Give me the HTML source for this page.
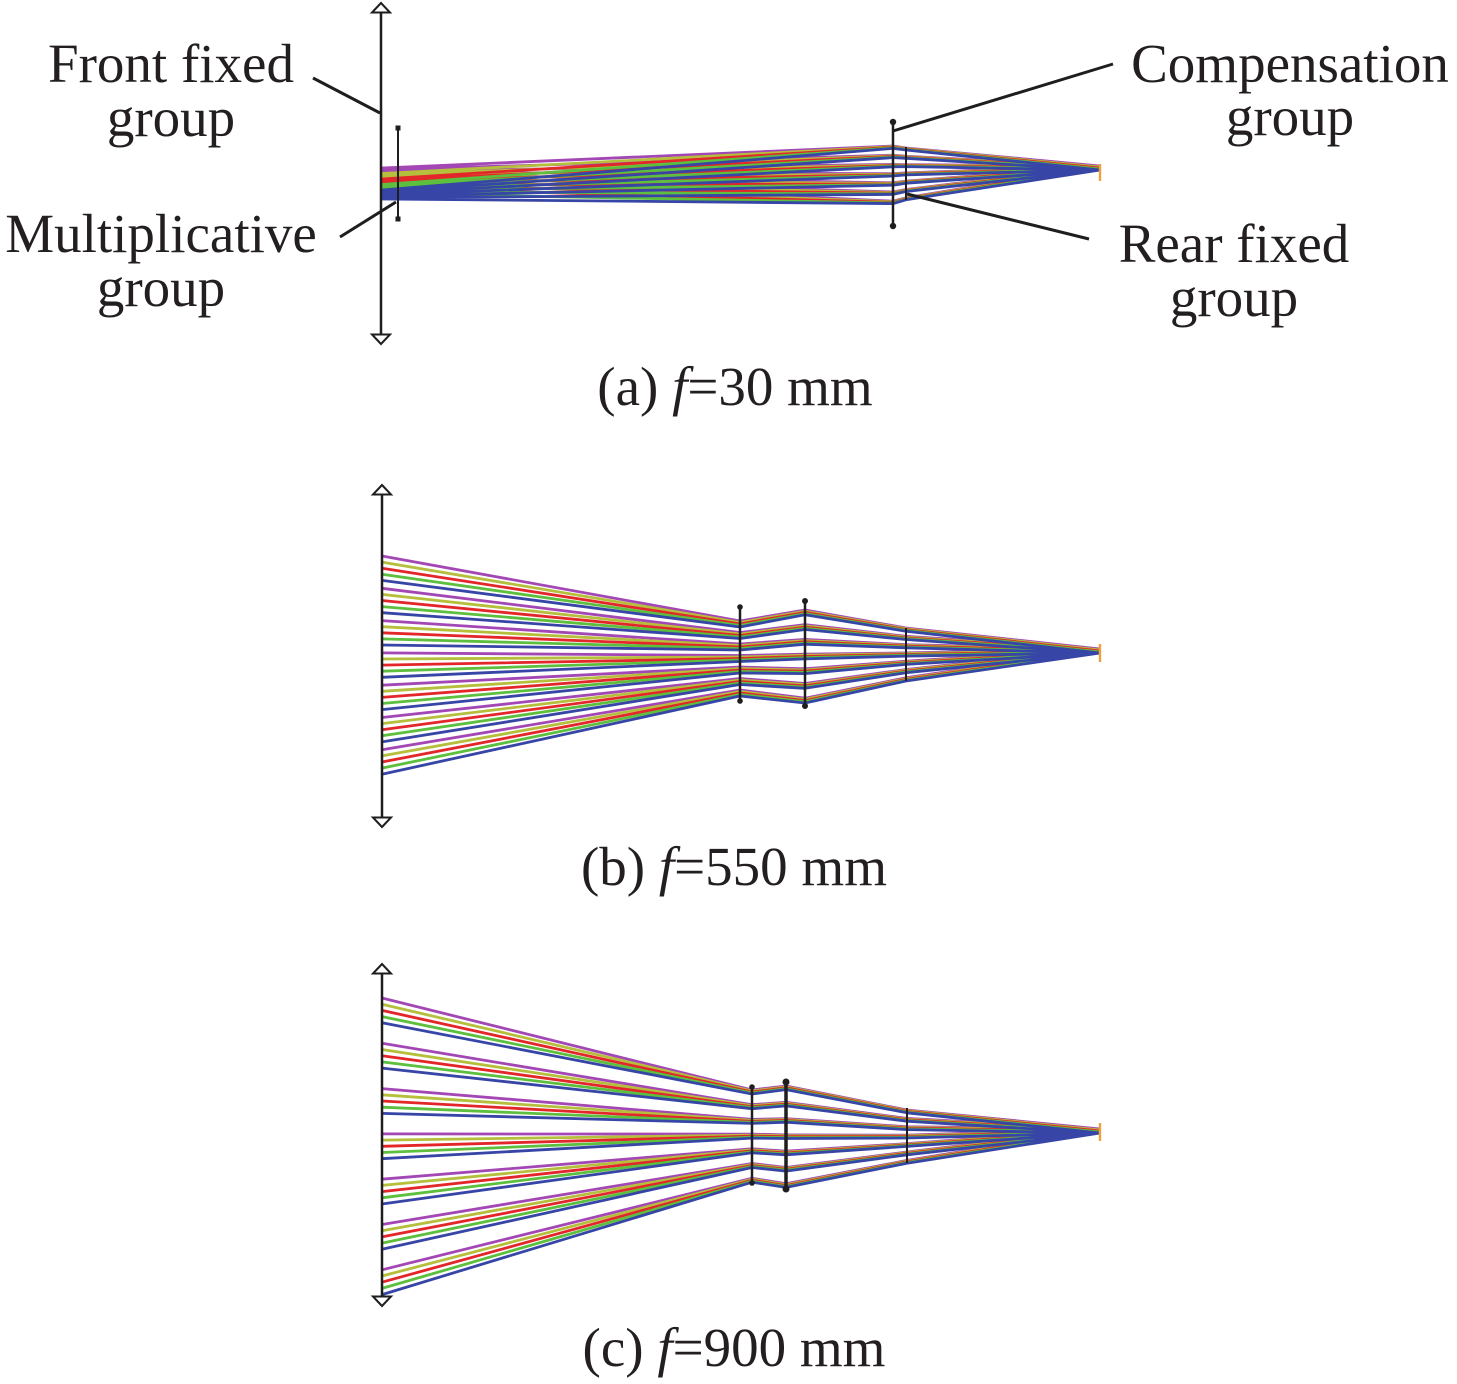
<!DOCTYPE html>
<html>
<head>
<meta charset="utf-8">
<style>
  html, body { margin: 0; padding: 0; background: #ffffff; }
  svg { display: block; }
  .t { font-family: "Liberation Serif", "Times New Roman", serif; font-size: 55px; fill: #231f20; }
  .ray { fill: none; stroke-width: 2.8; stroke-linejoin: round; }
  .m { stroke: #a347b5; }
  .y { stroke: #b5bf3c; }
  .r { stroke: #e3262a; }
  .g { stroke: #5cbf3e; }
  .b { stroke: #3645a6; }
  .lens { stroke: #1e1e1e; fill: none; }
  .arr { fill: #ffffff; stroke: #1e1e1e; stroke-width: 2; stroke-linejoin: miter; }
  .lead { stroke: #1e1e1e; stroke-width: 3; fill: none; }
  .dot { fill: #1e1e1e; }
  .foc { stroke: #f0a040; stroke-width: 2.4; fill: none; }
</style>
</head>
<body>
<svg width="1457" height="1384" viewBox="0 0 1457 1384" xmlns="http://www.w3.org/2000/svg">
<rect x="0" y="0" width="1457" height="1384" fill="#ffffff"/>

<!-- ===================== (a) ===================== -->
<g>
<path class="ray m" stroke-width="2.4" d="M382 168 L893 146 L906 148 L1100 166 M382 169.5 L893 155.2 L906 156.3 L1100 166 M382 171 L893 164.4 L906 164.6 L1100 166 M382 172.5 L893 173.6 L906 172.9 L1100 166 M382 174 L893 182.8 L906 181.2 L1100 166 M382 175.5 L893 192 L906 189.5 L1100 166 M382 177 L893 201.2 L906 197.8 L1100 166"/>
<path class="ray y" stroke-width="2.4" d="M382 173.5 L893 146.6 L906 148.5 L1100 167 M382 175 L893 155.8 L906 156.8 L1100 167 M382 176.5 L893 165 L906 165.1 L1100 167 M382 178 L893 174.2 L906 173.4 L1100 167 M382 179.5 L893 183.4 L906 181.7 L1100 167 M382 181 L893 192.6 L906 190 L1100 167 M382 182.5 L893 201.8 L906 198.3 L1100 167"/>
<path class="ray r" stroke-width="2.4" d="M382 179 L893 147.2 L906 149 L1100 168 M382 180.5 L893 156.4 L906 157.3 L1100 168 M382 182 L893 165.6 L906 165.6 L1100 168 M382 183.5 L893 174.8 L906 173.9 L1100 168 M382 185 L893 184 L906 182.2 L1100 168 M382 186.5 L893 193.2 L906 190.5 L1100 168 M382 188 L893 202.4 L906 198.8 L1100 168"/>
<path class="ray g" stroke-width="2.4" d="M382 184.5 L893 147.8 L906 149.5 L1100 169 M382 186 L893 157 L906 157.8 L1100 169 M382 187.5 L893 166.2 L906 166.1 L1100 169 M382 189 L893 175.4 L906 174.4 L1100 169 M382 190.5 L893 184.6 L906 182.7 L1100 169 M382 192 L893 193.8 L906 191 L1100 169 M382 193.5 L893 203 L906 199.3 L1100 169"/>
<path class="ray b" stroke-width="2.4" d="M382 190 L893 148.4 L906 150 L1100 170 M382 191.5 L893 157.6 L906 158.3 L1100 170 M382 193 L893 166.8 L906 166.6 L1100 170 M382 194.5 L893 176 L906 174.9 L1100 170 M382 196 L893 185.2 L906 183.2 L1100 170 M382 197.5 L893 194.4 L906 191.5 L1100 170 M382 199 L893 203.6 L906 199.8 L1100 170"/>

<line class="foc" x1="1100" y1="164" x2="1100" y2="181"/>

<!-- front fixed lens -->
<line class="lens" x1="381" y1="12" x2="381" y2="335" stroke-width="2.5"/>
<polygon class="arr" points="381,3 372,12.5 390,12.5"/>
<polygon class="arr" points="381,344 372,334.5 390,334.5"/>
<!-- multiplicative -->
<line class="lens" x1="398" y1="128" x2="398" y2="219" stroke-width="2"/>
<rect class="dot" x="395.5" y="125.5" width="5" height="5"/>
<rect class="dot" x="395.5" y="216.5" width="5" height="5"/>
<!-- compensation -->
<line class="lens" x1="893" y1="122" x2="893" y2="226" stroke-width="2.5"/>
<circle class="dot" cx="893" cy="122" r="3.2"/>
<circle class="dot" cx="893" cy="226" r="3.2"/>
<!-- rear fixed -->
<line class="lens" x1="906" y1="147" x2="906" y2="200" stroke-width="2"/>

<!-- leader lines -->
<line class="lead" x1="313" y1="78" x2="380" y2="113"/>
<line class="lead" x1="340" y1="237" x2="396" y2="202"/>
<line class="lead" x1="893" y1="131" x2="1113" y2="64"/>
<line class="lead" x1="907" y1="194" x2="1089" y2="239"/>

<!-- labels -->
<text class="t" x="171" y="82" text-anchor="middle">Front fixed</text>
<text class="t" x="171" y="136" text-anchor="middle">group</text>
<text class="t" x="161" y="252" text-anchor="middle">Multiplicative</text>
<text class="t" x="161" y="306" text-anchor="middle">group</text>
<text class="t" x="1290" y="82" text-anchor="middle">Compensation</text>
<text class="t" x="1290" y="135" text-anchor="middle">group</text>
<text class="t" x="1234" y="262" text-anchor="middle">Rear fixed</text>
<text class="t" x="1234" y="316" text-anchor="middle">group</text>

<text class="t" x="735" y="405" text-anchor="middle">(a) <tspan font-style="italic">f</tspan>=30 mm</text>
</g>

<!-- ===================== (b) ===================== -->
<g>
<path class="ray m" d="M382 556 L740 621 L805 610 L906 628 L1100 649 M382 588.3 L740 632.5 L805 624.7 L906 636.3 L1100 649 M382 620.6 L740 644 L805 639.4 L906 644.6 L1100 649 M382 652.9 L740 655.5 L805 654.1 L906 652.9 L1100 649 M382 685.2 L740 667 L805 668.8 L906 661.2 L1100 649 M382 717.5 L740 678.5 L805 683.5 L906 669.5 L1100 649 M382 749.8 L740 690 L805 698.2 L906 677.8 L1100 649"/>
<path class="ray y" d="M382 562.1 L740 622.5 L805 611.2 L906 628.8 L1100 650 M382 594.4 L740 634 L805 625.9 L906 637.1 L1100 650 M382 626.7 L740 645.5 L805 640.6 L906 645.4 L1100 650 M382 659 L740 657 L805 655.3 L906 653.7 L1100 650 M382 691.3 L740 668.5 L805 670 L906 662 L1100 650 M382 723.6 L740 680 L805 684.7 L906 670.3 L1100 650 M382 755.9 L740 691.5 L805 699.4 L906 678.6 L1100 650"/>
<path class="ray r" d="M382 568.2 L740 624 L805 612.4 L906 629.6 L1100 651 M382 600.5 L740 635.5 L805 627.1 L906 637.9 L1100 651 M382 632.8 L740 647 L805 641.8 L906 646.2 L1100 651 M382 665.1 L740 658.5 L805 656.5 L906 654.5 L1100 651 M382 697.4 L740 670 L805 671.2 L906 662.8 L1100 651 M382 729.7 L740 681.5 L805 685.9 L906 671.1 L1100 651 M382 762 L740 693 L805 700.6 L906 679.4 L1100 651"/>
<path class="ray g" d="M382 574.3 L740 625.5 L805 613.6 L906 630.4 L1100 652 M382 606.6 L740 637 L805 628.3 L906 638.7 L1100 652 M382 638.9 L740 648.5 L805 643 L906 647 L1100 652 M382 671.2 L740 660 L805 657.7 L906 655.3 L1100 652 M382 703.5 L740 671.5 L805 672.4 L906 663.6 L1100 652 M382 735.8 L740 683 L805 687.1 L906 671.9 L1100 652 M382 768.1 L740 694.5 L805 701.8 L906 680.2 L1100 652"/>
<path class="ray b" d="M382 580.4 L740 627 L805 614.8 L906 631.2 L1100 653 M382 612.7 L740 638.5 L805 629.5 L906 639.5 L1100 653 M382 645 L740 650 L805 644.2 L906 647.8 L1100 653 M382 677.3 L740 661.5 L805 658.9 L906 656.1 L1100 653 M382 709.6 L740 673 L805 673.6 L906 664.4 L1100 653 M382 741.9 L740 684.5 L805 688.3 L906 672.7 L1100 653 M382 774.2 L740 696 L805 703 L906 681 L1100 653"/>

<line class="foc" x1="1100" y1="644" x2="1100" y2="662"/>

<line class="lens" x1="382" y1="494" x2="382" y2="818" stroke-width="2.5"/>
<polygon class="arr" points="382,485 373,494.5 391,494.5"/>
<polygon class="arr" points="382,827 373,817.5 391,817.5"/>

<line class="lens" x1="740" y1="607" x2="740" y2="701" stroke-width="2.5"/>
<circle class="dot" cx="740" cy="607" r="2.8"/>
<circle class="dot" cx="740" cy="701" r="2.8"/>
<line class="lens" x1="805" y1="601" x2="805" y2="706" stroke-width="2.5"/>
<circle class="dot" cx="805" cy="601" r="3"/>
<circle class="dot" cx="805" cy="706" r="3"/>
<line class="lens" x1="906" y1="628" x2="906" y2="681" stroke-width="2"/>

<text class="t" x="734" y="885" text-anchor="middle">(b) <tspan font-style="italic">f</tspan>=550 mm</text>
</g>

<!-- ===================== (c) ===================== -->
<g>
<path class="ray m" d="M382 998 L752 1090 L786 1086 L907 1110 L1100 1129 M382 1043.3 L752 1104.7 L786 1102.3 L907 1118.4 L1100 1129 M382 1088.6 L752 1119.4 L786 1118.6 L907 1126.8 L1100 1129 M382 1133.9 L752 1134.1 L786 1134.9 L907 1135.2 L1100 1129 M382 1179.2 L752 1148.8 L786 1151.2 L907 1143.6 L1100 1129 M382 1224.5 L752 1163.5 L786 1167.5 L907 1152 L1100 1129 M382 1269.8 L752 1178.2 L786 1183.8 L907 1160.4 L1100 1129"/>
<path class="ray y" d="M382 1004.2 L752 1091 L786 1086.9 L907 1110.7 L1100 1130 M382 1049.5 L752 1105.7 L786 1103.2 L907 1119.1 L1100 1130 M382 1094.8 L752 1120.4 L786 1119.5 L907 1127.5 L1100 1130 M382 1140.1 L752 1135.1 L786 1135.8 L907 1135.9 L1100 1130 M382 1185.4 L752 1149.8 L786 1152.1 L907 1144.3 L1100 1130 M382 1230.7 L752 1164.5 L786 1168.4 L907 1152.7 L1100 1130 M382 1276 L752 1179.2 L786 1184.7 L907 1161.1 L1100 1130"/>
<path class="ray r" d="M382 1010.4 L752 1092 L786 1087.8 L907 1111.4 L1100 1131 M382 1055.7 L752 1106.7 L786 1104.1 L907 1119.8 L1100 1131 M382 1101 L752 1121.4 L786 1120.4 L907 1128.2 L1100 1131 M382 1146.3 L752 1136.1 L786 1136.7 L907 1136.6 L1100 1131 M382 1191.6 L752 1150.8 L786 1153 L907 1145 L1100 1131 M382 1236.9 L752 1165.5 L786 1169.3 L907 1153.4 L1100 1131 M382 1282.2 L752 1180.2 L786 1185.6 L907 1161.8 L1100 1131"/>
<path class="ray g" d="M382 1016.6 L752 1093 L786 1088.7 L907 1112.1 L1100 1132 M382 1061.9 L752 1107.7 L786 1105 L907 1120.5 L1100 1132 M382 1107.2 L752 1122.4 L786 1121.3 L907 1128.9 L1100 1132 M382 1152.5 L752 1137.1 L786 1137.6 L907 1137.3 L1100 1132 M382 1197.8 L752 1151.8 L786 1153.9 L907 1145.7 L1100 1132 M382 1243.1 L752 1166.5 L786 1170.2 L907 1154.1 L1100 1132 M382 1288.4 L752 1181.2 L786 1186.5 L907 1162.5 L1100 1132"/>
<path class="ray b" d="M382 1022.8 L752 1094 L786 1089.6 L907 1112.8 L1100 1133 M382 1068.1 L752 1108.7 L786 1105.9 L907 1121.2 L1100 1133 M382 1113.4 L752 1123.4 L786 1122.2 L907 1129.6 L1100 1133 M382 1158.7 L752 1138.1 L786 1138.5 L907 1138 L1100 1133 M382 1204 L752 1152.8 L786 1154.8 L907 1146.4 L1100 1133 M382 1249.3 L752 1167.5 L786 1171.1 L907 1154.8 L1100 1133 M382 1294.6 L752 1182.2 L786 1187.4 L907 1163.2 L1100 1133"/>

<line class="foc" x1="1100" y1="1123" x2="1100" y2="1141"/>

<line class="lens" x1="382" y1="973" x2="382" y2="1297" stroke-width="2.5"/>
<polygon class="arr" points="382,964 373,973.5 391,973.5"/>
<polygon class="arr" points="382,1306 373,1296.5 391,1296.5"/>

<line class="lens" x1="752" y1="1087" x2="752" y2="1183" stroke-width="2.5"/>
<circle class="dot" cx="752" cy="1087" r="2.8"/>
<circle class="dot" cx="752" cy="1183" r="2.8"/>
<line class="lens" x1="786" y1="1082" x2="786" y2="1189" stroke-width="3.5"/>
<circle class="dot" cx="786" cy="1082" r="3.5"/>
<circle class="dot" cx="786" cy="1189" r="3.5"/>
<line class="lens" x1="907" y1="1108" x2="907" y2="1163" stroke-width="2"/>

<text class="t" x="734" y="1366" text-anchor="middle">(c) <tspan font-style="italic">f</tspan>=900 mm</text>
</g>
</svg>
</body>
</html>
